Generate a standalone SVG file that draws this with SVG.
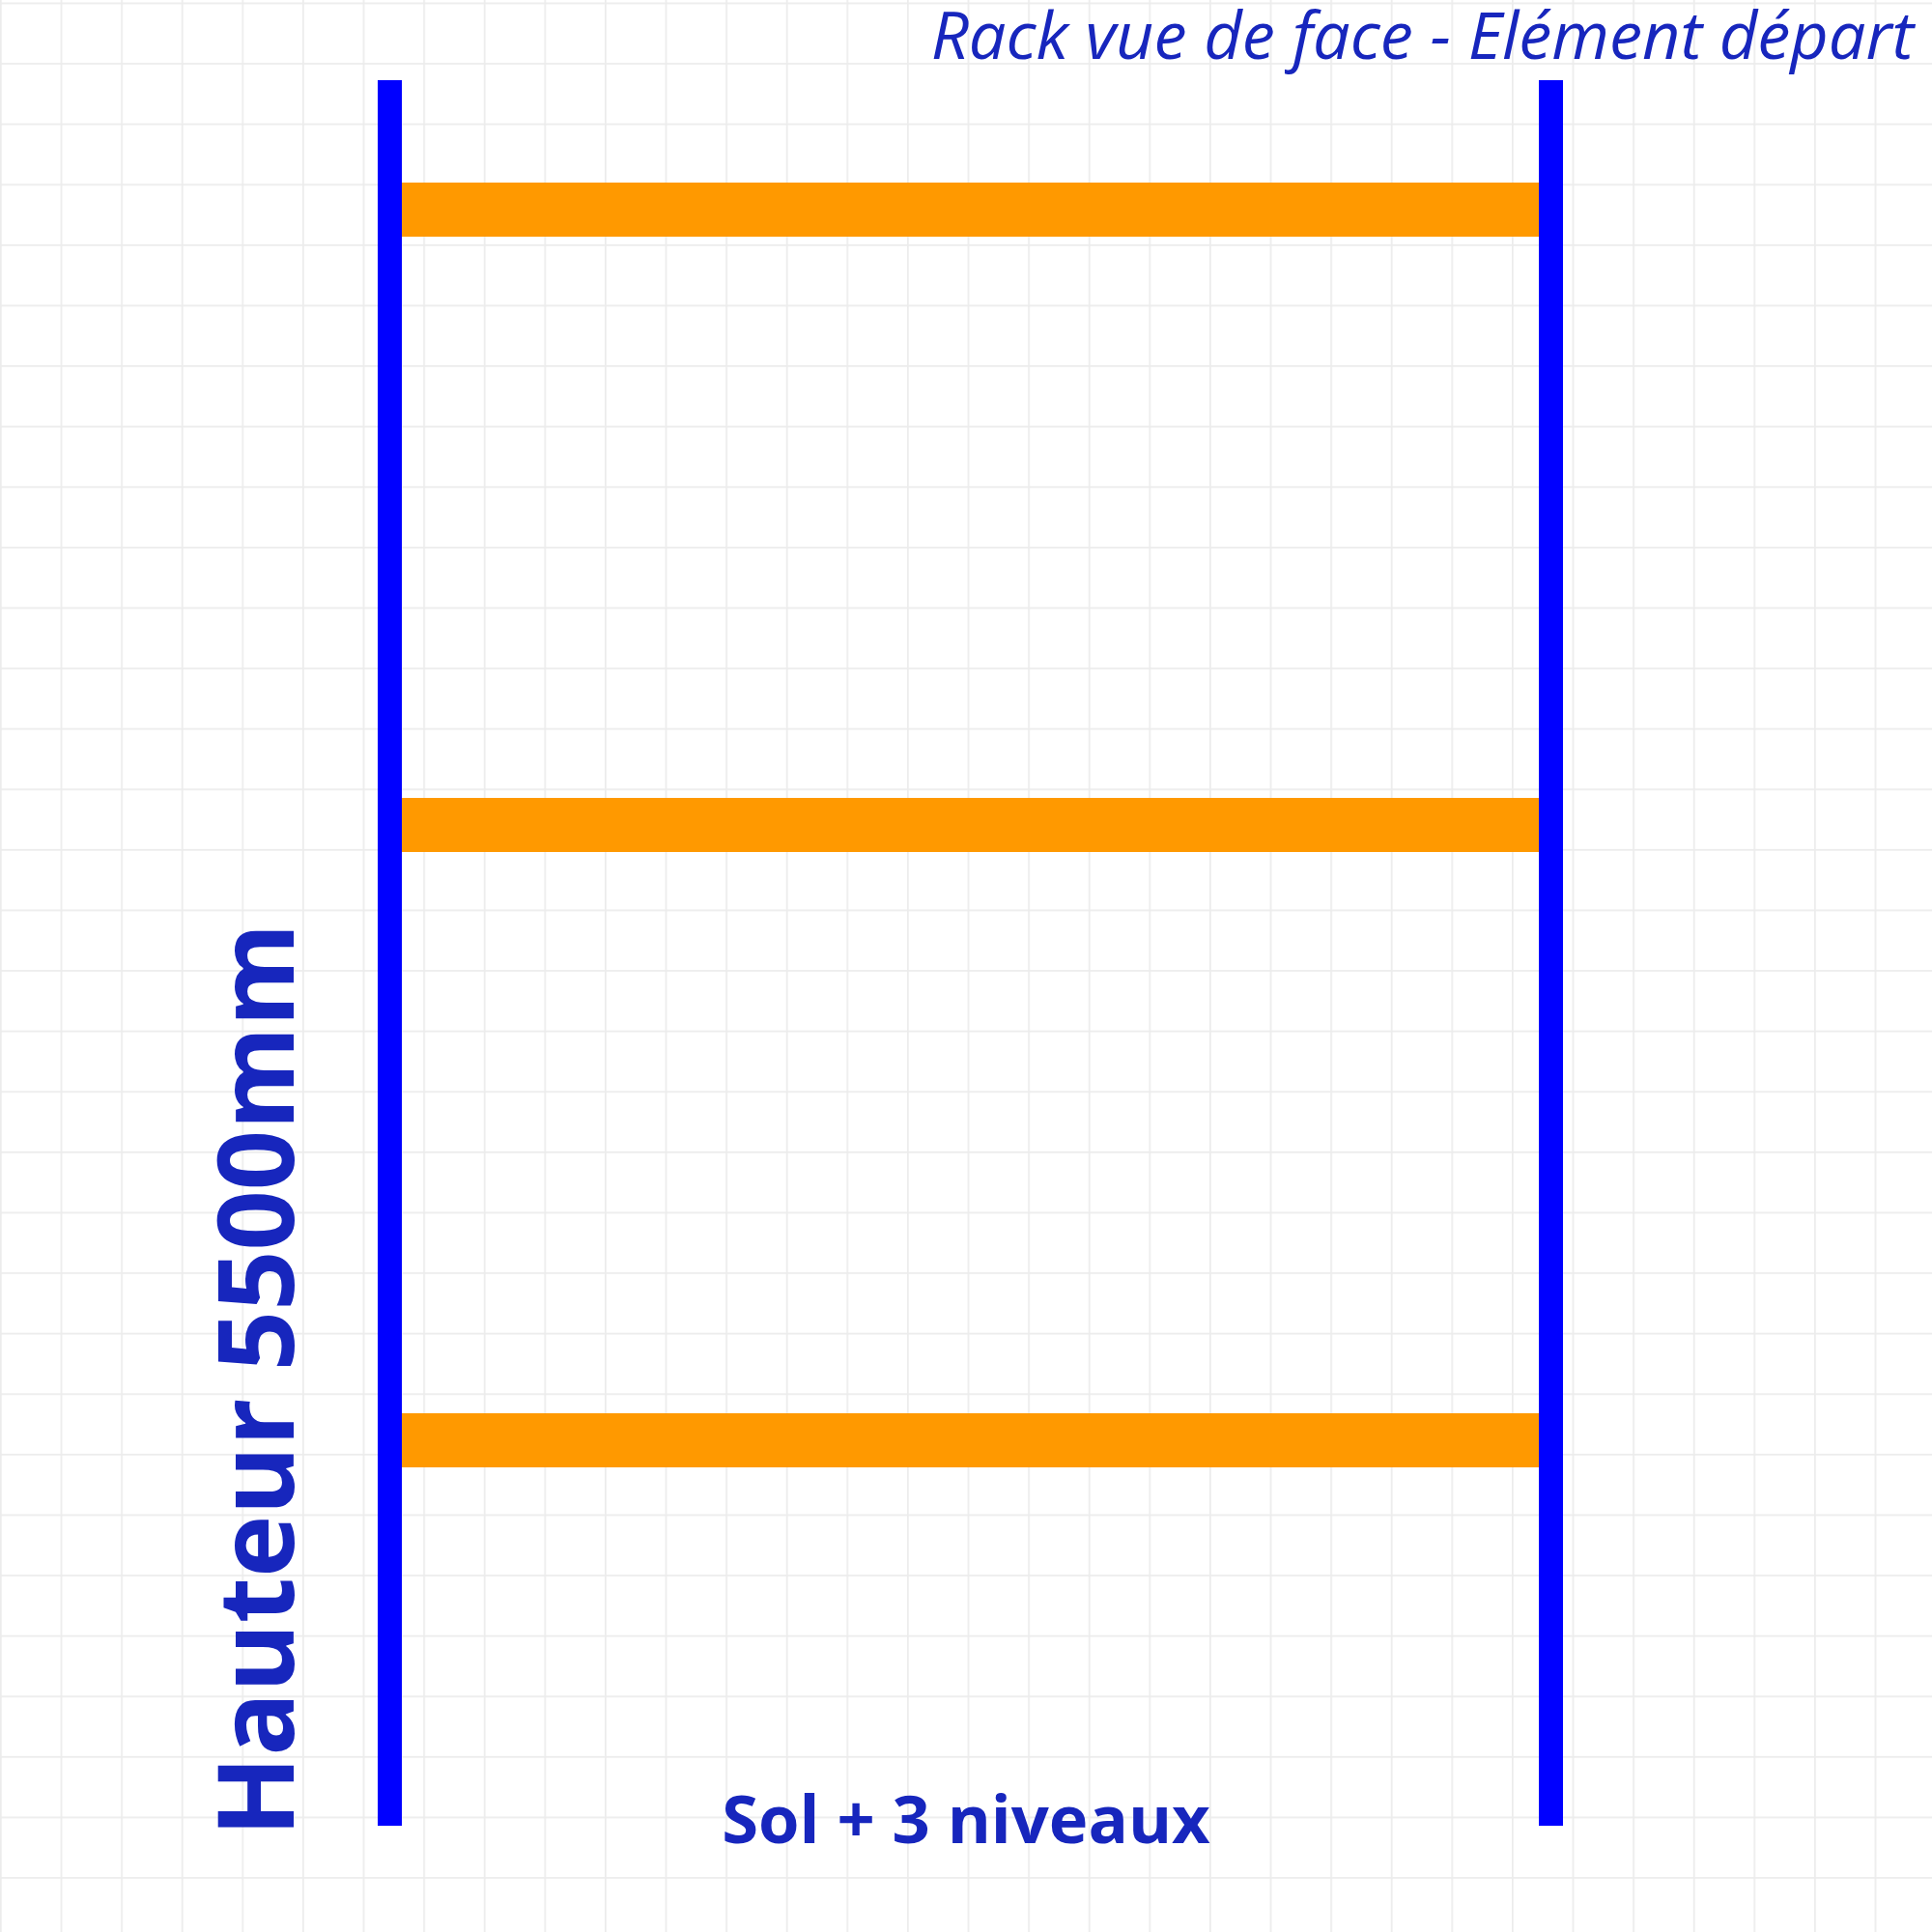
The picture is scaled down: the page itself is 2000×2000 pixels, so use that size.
<svg xmlns="http://www.w3.org/2000/svg" width="2000" height="2000" viewBox="0 0 2000 2000">
<defs>
<style>
.post{fill:#0000ff}
.beam{fill:#ff9900}
.lbl{fill:#1726bd;font-family:"Open Sans","Noto Sans","DejaVu Sans",sans-serif}
</style>
<pattern id="gp" x="0" y="2.5" width="62.6" height="62.6" patternUnits="userSpaceOnUse">
<path d="M0 0H62.6M0 0V62.6" fill="none" stroke="#ececec" stroke-width="3.4"/>
</pattern>
</defs>
<rect width="2000" height="2000" fill="#ffffff"/>
<rect id="grid" width="2000" height="2000" fill="url(#gp)"/>
<g id="beams">
<rect id="beam1" class="beam" x="413" y="189" width="1181" height="56"/>
<rect id="beam2" class="beam" x="413" y="826" width="1181" height="56"/>
<rect id="beam3" class="beam" x="413" y="1463" width="1181" height="56"/>
</g>
<g id="posts">
<rect id="post-left" class="post" x="391" y="83" width="25" height="1807"/>
<rect id="post-right" class="post" x="1593" y="83" width="25" height="1807"/>
</g>
<g id="labels">
<text id="title" class="lbl" x="1981" y="61" font-size="68.4" font-style="italic" text-anchor="end">Rack vue de face - Elément départ</text>
<text id="height" class="lbl" font-size="109" font-weight="bold" text-anchor="middle" transform="translate(304 1428.5) rotate(-90)">Hauteur 5500mm</text>
<text id="levels" class="lbl" x="1000" y="1908" font-size="68.7" font-weight="bold" text-anchor="middle">Sol + 3 niveaux</text>
</g>
</svg>
